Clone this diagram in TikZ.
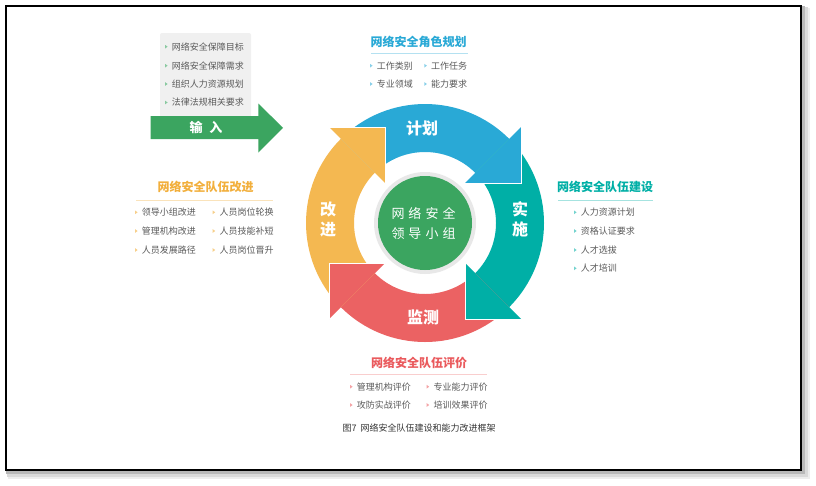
\documentclass[tikz,border=0pt]{standalone}
\usepackage{fontspec}
\setmainfont{Noto Sans CJK SC}
\definecolor{cBlue}{HTML}{29A9D6}
\definecolor{cTeal}{HTML}{00AFA6}
\definecolor{cRed}{HTML}{EB6263}
\definecolor{cYel}{HTML}{F4B851}
\definecolor{cGreen}{HTML}{3BA560}
\definecolor{cText}{HTML}{5A5A5A}
\definecolor{tYel}{HTML}{F2AF3C}
\definecolor{tRed}{HTML}{EA5A5D}
\newcommand\itm[5]{%
  \fill[#4] (#2-6.6,#3-1.8) -- (#2-4.1,#3) -- (#2-6.6,#3+1.8) -- cycle;
  \node[item] (#1) at (#2,#3) {#5};}
\begin{document}
\begin{tikzpicture}[x=1pt,y=-1pt,
  item/.style={font=\fontsize{9}{10}\selectfont, text=cText, inner sep=0pt, anchor=west},
  ttl/.style={font=\fontsize{12}{13}\selectfont\bfseries, inner sep=0pt},
  arclbl/.style={font=\fontsize{16}{20}\selectfont\bfseries, text=white, inner sep=0pt, align=center},
  uline/.style={line width=0.8pt}]
\useasboundingbox (0,0) rectangle (816,485);
\fill[white] (0,0) rectangle (816,485);
% frame with shadow
\fill[black!7] (8,8) rectangle (810,479);
\fill[black!15] (7,7) rectangle (808,477);
\fill[black!28] (6,6) rectangle (805,474);
\filldraw[fill=white, draw=black, line width=2pt] (5.5,5.5) rectangle (801,469.5);
% cycle ring
\begin{scope}[shift={(425,223)}, yscale=-1]
  \foreach \c/\k in {cBlue/0, cTeal/1, cRed/2, cYel/3} {
    \fill[\c, rotate=90*\k] (135:119) arc[start angle=135, end angle=45, radius=119]
      -- (45:71) arc[start angle=45, end angle=135, radius=71] -- cycle;
  }
  \foreach \c/\k in {cBlue/0, cTeal/1, cRed/2, cYel/3} {
    \fill[\c, rotate=90*\k] (40,40) -- (96,96) -- (96,40) -- cycle;
    \draw[white, line width=0.6pt, rotate=90*\k] (96,96) -- (96,40) -- (40,40);
  }
\end{scope}
% center
\node[circle, fill=black!9, minimum size=102pt, inner sep=0pt] (halo) at (425,223) {};
\node[circle, fill=cGreen, minimum size=94pt, inner sep=0pt] (core) at (425,223) {};
\node[font=\fontsize{13}{20}\selectfont, text=white, align=center, inner sep=0pt] (coretxt) at (423.5,223)
  {网\hspace{4pt}络\hspace{4pt}安\hspace{4pt}全\\领\hspace{4pt}导\hspace{4pt}小\hspace{4pt}组};
% arc labels
\node[arclbl] (plan) at (422,128) {计划};
\node[arclbl] (impl) at (520,219) {实\\施};
\node[arclbl] (mon) at (423,317) {监测};
\node[arclbl] (impr) at (328,219) {改\\进};
% input box and arrow
\fill[black!6, rounded corners=2pt] (160,33) rectangle (251,120);
\fill[cGreen] (150.7,116) -- (258.3,116) -- (258.3,103.5) -- (283,127.8) -- (258.3,152.5)
  -- (258.3,139) -- (150.7,139) -- cycle;
\node[font=\fontsize{13}{14}\selectfont\bfseries, text=white, inner sep=0pt] (inp) at (206,127) {输\hspace{7pt}入};
\itm{in1}{171.7}{46.7}{cGreen!60}{网络安全保障目标}
\itm{in2}{171.7}{65.7}{cGreen!60}{网络安全保障需求}
\itm{in3}{171.7}{84}{cGreen!60}{组织人力资源规划}
\itm{in4}{171.7}{102.5}{cGreen!60}{法律法规相关要求}
% top block
\node[ttl, text=cBlue] (ttop) at (418.5,41.7) {网络安全角色规划};
\draw[uline, cBlue!35] (371,53.3) -- (468,53.3);
\itm{a1}{376.7}{65.7}{cBlue!55}{工作类别}
\itm{a2}{431}{65.7}{cBlue!55}{工作任务}
\itm{a3}{376.7}{84}{cBlue!55}{专业领域}
\itm{a4}{431}{84}{cBlue!55}{能力要求}
% left block
\node[ttl, text=tYel] (tleft) at (205.7,187.3) {网络安全队伍改进};
\draw[uline, tYel!35] (136,200) -- (273,200);
\itm{b1}{141.7}{212.3}{tYel!60}{领导小组改进}
\itm{b2}{219.3}{212.3}{tYel!60}{人员岗位轮换}
\itm{b3}{141.7}{231}{tYel!60}{管理机构改进}
\itm{b4}{219.3}{231}{tYel!60}{人员技能补短}
\itm{b5}{141.7}{250}{tYel!60}{人员发展路径}
\itm{b6}{219.3}{250}{tYel!60}{人员岗位晋升}
% right block
\node[ttl, text=cTeal] (tright) at (605,186.7) {网络安全队伍建设};
\draw[uline, cTeal!35] (558,200) -- (653,200);
\itm{c1}{580.7}{212.3}{cTeal!55}{人力资源计划}
\itm{c2}{580.7}{231}{cTeal!55}{资格认证要求}
\itm{c3}{580.7}{250}{cTeal!55}{人才选拔}
\itm{c4}{580.7}{268.3}{cTeal!55}{人才培训}
% bottom block
\node[ttl, text=tRed] (tbot) at (419,363.3) {网络安全队伍评价};
\draw[uline, tRed!30] (350,374.3) -- (487,374.3);
\itm{d1}{356.7}{386.7}{tRed!55}{管理机构评价}
\itm{d2}{433.3}{386.7}{tRed!55}{专业能力评价}
\itm{d3}{356.7}{405}{tRed!55}{攻防实战评价}
\itm{d4}{433.3}{405}{tRed!55}{培训效果评价}
% caption
\node[font=\fontsize{9}{10}\selectfont, text=black!80, inner sep=0pt] (cap) at (419.2,428.3) {图7\hspace{4pt}网络安全队伍建设和能力改进框架};
\end{tikzpicture}
\end{document}
